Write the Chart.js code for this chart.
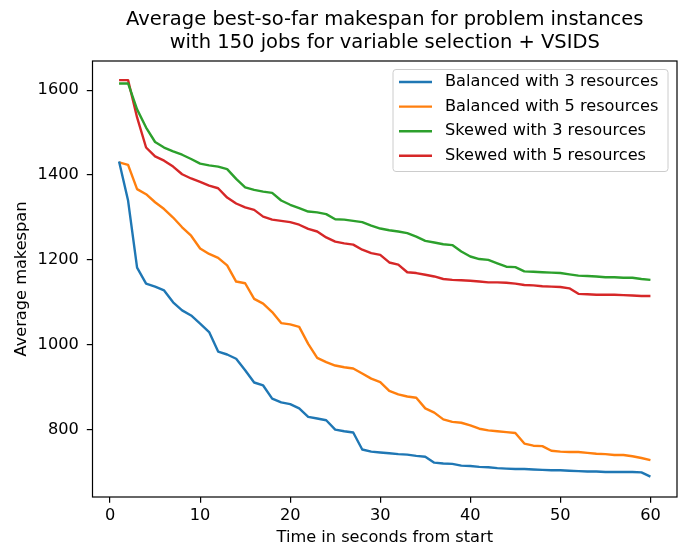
<!DOCTYPE html>
<html>
<head>
<meta charset="utf-8">
<script src="https://cdn.jsdelivr.net/npm/chart.js@4.4.0/dist/chart.umd.min.js"></script>
<style>
  html, body { margin: 0; padding: 0; background: #fff; }
  #wrap { width: 686px; height: 548px; }
</style>
</head>
<body>
<div id="wrap"><canvas id="chart-line" width="686" height="548"></canvas></div>
<script>
// seconds from start (x categories)
var seconds = [1, 2, 3, 4, 5, 6, 7, 8, 9, 10, 11, 12, 13, 14, 15, 16, 17, 18, 19, 20,
  21, 22, 23, 24, 25, 26, 27, 28, 29, 30, 31, 32, 33, 34, 35, 36, 37, 38, 39, 40,
  41, 42, 43, 44, 45, 46, 47, 48, 49, 50, 51, 52, 53, 54, 55, 56, 57, 58, 59, 60];

// average best-so-far makespan
var balanced3 = [1432, 1340, 1182, 1144, 1137, 1128, 1100, 1081, 1069, 1050, 1030, 984, 977, 967, 940, 911, 904, 873, 864, 860,
  850, 830, 826, 822, 800, 796, 793, 753, 748, 746, 744, 742, 741, 738, 736, 722, 720, 719, 715, 714,
  712, 711, 709, 708, 707, 707, 706, 705, 704, 704, 703, 702, 701, 701, 700, 700, 700, 700, 699, 689];
var balanced5 = [1430, 1424, 1367, 1355, 1336, 1320, 1300, 1277, 1257, 1227, 1214, 1205, 1187, 1149, 1145, 1108, 1097, 1077, 1051, 1048,
  1042, 1002, 969, 959, 951, 947, 944, 932, 920, 912, 891, 883, 878, 875, 850, 840, 824, 818, 816, 810,
  802, 798, 796, 794, 792, 767, 762, 761, 750, 748, 747, 747, 745, 743, 742, 740, 740, 737, 733, 728];
var skewed3 = [1616, 1616, 1555, 1512, 1478, 1465, 1456, 1448, 1438, 1427, 1423, 1420, 1414, 1391, 1371, 1365, 1361, 1358, 1340, 1330,
  1322, 1314, 1312, 1308, 1296, 1295, 1292, 1289, 1281, 1274, 1270, 1267, 1263, 1255, 1245, 1241, 1237, 1235, 1220, 1208,
  1202, 1200, 1192, 1184, 1183, 1173, 1172, 1171, 1170, 1169, 1166, 1163, 1162, 1161, 1159, 1159, 1158, 1158, 1155, 1153];
var skewed5 = [1624, 1624, 1536, 1465, 1444, 1434, 1420, 1402, 1392, 1384, 1375, 1369, 1347, 1333, 1324, 1318, 1302, 1295, 1292, 1289,
  1283, 1273, 1267, 1253, 1243, 1239, 1236, 1224, 1216, 1212, 1194, 1189, 1171, 1169, 1165, 1161, 1155, 1153, 1152, 1151,
  1149, 1147, 1147, 1146, 1144, 1141, 1140, 1138, 1137, 1136, 1133, 1120, 1119, 1118, 1118, 1118, 1117, 1116, 1115, 1115];

var seriesLabels = ["Balanced with 3 resources", "Balanced with 5 resources", "Skewed with 3 resources", "Skewed with 5 resources"];
var xTicks = [0, 10, 20, 30, 40, 50, 60];
var yTicks = [800, 1000, 1200, 1400, 1600];
var titleLines = ["Average best-so-far makespan for problem instances", "with 150 jobs for variable selection + VSIDS"];

var FONT = "'DejaVu Sans', sans-serif";
var SMALL = 16.2;   // ticks, legend, axis labels
var BIG = 19.5;     // title
Chart.defaults.font.family = FONT;
Chart.defaults.color = '#000';

function pts(arr) {
  return seconds.map(function (t, i) { return { x: t, y: arr[i] }; });
}

function lineSet(label, data, color) {
  return {
    label: label,
    data: pts(data),
    borderColor: color,
    backgroundColor: color,
    borderWidth: 2.4,
    pointRadius: 0,
    tension: 0,
    fill: false,
    borderJoinStyle: 'round',
  };
}

// frame, title and legend the way matplotlib puts them
var decorations = {
  id: 'decorations',
  afterDraw: function (chart) {
    var ctx = chart.ctx;
    var a = chart.chartArea;
    ctx.save();

    // spines
    ctx.strokeStyle = '#000';
    ctx.lineWidth = 1.2;
    ctx.strokeRect(a.left, a.top, a.right - a.left, a.bottom - a.top);

    // title
    ctx.fillStyle = '#000';
    ctx.font = BIG + 'px ' + FONT;
    ctx.textAlign = 'center';
    ctx.textBaseline = 'alphabetic';
    var cx = (a.left + a.right) / 2;
    ctx.fillText(titleLines[0], cx, 25);
    ctx.fillText(titleLines[1], cx, 47.5);

    // legend
    var bw = 275, bh = 102;
    var bx = a.right - 9 - bw, by = a.top + 8.5;
    var r = 3;
    ctx.beginPath();
    ctx.moveTo(bx + r, by);
    ctx.lineTo(bx + bw - r, by);
    ctx.arcTo(bx + bw, by, bx + bw, by + r, r);
    ctx.lineTo(bx + bw, by + bh - r);
    ctx.arcTo(bx + bw, by + bh, bx + bw - r, by + bh, r);
    ctx.lineTo(bx + r, by + bh);
    ctx.arcTo(bx, by + bh, bx, by + bh - r, r);
    ctx.lineTo(bx, by + r);
    ctx.arcTo(bx, by, bx + r, by, r);
    ctx.closePath();
    ctx.fillStyle = 'rgba(255,255,255,0.8)';
    ctx.fill();
    ctx.strokeStyle = '#cccccc';
    ctx.lineWidth = 1;
    ctx.stroke();

    ctx.font = SMALL + 'px ' + FONT;
    ctx.textAlign = 'left';
    ctx.textBaseline = 'middle';
    chart.data.datasets.forEach(function (ds, i) {
      var ry = by + 12.5 + i * 24.6;
      ctx.strokeStyle = ds.borderColor;
      ctx.lineWidth = 2.4;
      ctx.beginPath();
      ctx.moveTo(bx + 6, ry);
      ctx.lineTo(bx + 39, ry);
      ctx.stroke();
      ctx.fillStyle = '#000';
      ctx.fillText(ds.label, bx + 52, ry);
    });
    ctx.restore();
  }
};

var ctx2 = document.getElementById("chart-line").getContext("2d");
new Chart(ctx2, {
  type: "line",
  data: {
    datasets: [
      lineSet(seriesLabels[0], balanced3, '#1f77b4'),
      lineSet(seriesLabels[1], balanced5, '#ff7f0e'),
      lineSet(seriesLabels[2], skewed3, '#2ca02c'),
      lineSet(seriesLabels[3], skewed5, '#d62728'),
    ],
  },
  options: {
    responsive: false,
    animation: false,
    devicePixelRatio: 1,
    layout: {
      padding: { left: 0, top: 61, right: 9, bottom: 0 },
    },
    plugins: {
      legend: { display: false },
      title: { display: false },
      tooltip: { enabled: false },
    },
    scales: {
      x: {
        type: 'linear',
        min: -1.95,
        max: 62.95,
        afterBuildTicks: function (scale) {
          scale.ticks = xTicks.map(function (v) { return { value: v }; });
        },
        afterFit: function (scale) { scale.height = 51; },
        border: { display: false },
        grid: {
          drawOnChartArea: false,
          drawTicks: true,
          tickLength: 5.7,
          color: '#000',
          lineWidth: 1.2,
        },
        ticks: {
          padding: 3.5,
          autoSkip: false,
          maxRotation: 0,
          color: '#000',
          font: { size: SMALL },
          callback: function (v) { return String(v); },
        },
        title: {
          display: true,
          text: 'Time in seconds from start',
          color: '#000',
          font: { size: SMALL },
          padding: { top: 0, bottom: 0 },
        },
      },
      y: {
        type: 'linear',
        min: 641,
        max: 1669,
        afterBuildTicks: function (scale) {
          scale.ticks = yTicks.map(function (v) { return { value: v }; });
        },
        afterFit: function (scale) { scale.width = 92.5; },
        border: { display: false },
        grid: {
          drawOnChartArea: false,
          drawTicks: true,
          tickLength: 5.7,
          color: '#000',
          lineWidth: 1.2,
        },
        ticks: {
          padding: 8,
          autoSkip: false,
          color: '#000',
          font: { size: SMALL },
          callback: function (v) { return String(v); },
        },
        title: {
          display: true,
          text: 'Average makespan',
          color: '#000',
          font: { size: SMALL },
          padding: { top: 12, bottom: 0 },
        },
      },
    },
  },
  plugins: [decorations],
});
</script>
</body>
</html>
